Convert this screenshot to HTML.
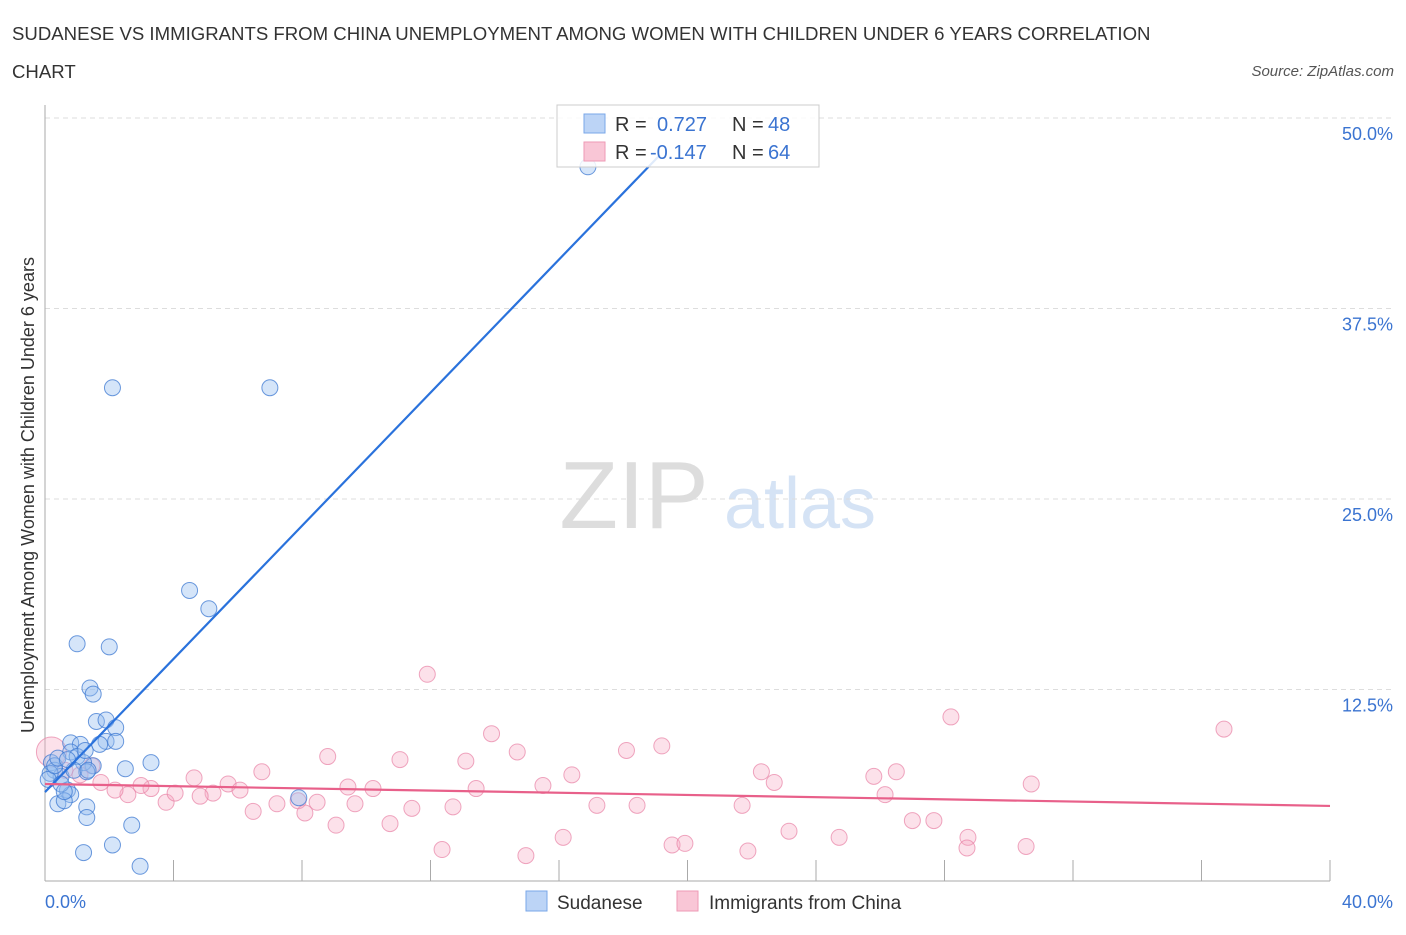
<!DOCTYPE html>
<html><head><meta charset="utf-8"><style>
body{margin:0;background:#fff;font-family:"Liberation Sans",sans-serif;}
svg text{font-family:"Liberation Sans",sans-serif;}
</style></head><body>
<svg id="c" width="1406" height="930" xmlns="http://www.w3.org/2000/svg">
<text x="12" y="40" font-size="18.6" fill="#333">SUDANESE VS IMMIGRANTS FROM CHINA UNEMPLOYMENT AMONG WOMEN WITH CHILDREN UNDER 6 YEARS CORRELATION</text>
<text x="12" y="78" font-size="18.6" fill="#333">CHART</text>
<text x="1394" y="76" font-size="15" fill="#555" font-style="italic" text-anchor="end">Source: ZipAtlas.com</text>
<text x="634" y="528" font-size="96" fill="#ddd" font-family="Liberation Serif" text-anchor="middle">ZIP</text>
<text x="800" y="528" font-size="72" fill="#d5e3f5" text-anchor="middle">atlas</text>
<text transform="translate(34,495) rotate(-90)" font-size="18" fill="#333" text-anchor="middle">Unemployment Among Women with Children Under 6 years</text>
<g id="grid"></g><g id="marks"></g><g id="lines"></g>
<g>
<rect x="557" y="105" width="262" height="62" fill="rgba(255,255,255,0.85)" stroke="#ccc"/>
<rect x="584" y="114" width="21" height="19" fill="#bcd4f6" stroke="#7aa7e8"/>
<rect x="584" y="142" width="21" height="19" fill="#f9c6d6" stroke="#ee9ab5"/>
<text x="615" y="131" font-size="20" fill="#333">R =</text><text x="657" y="131" font-size="20" fill="#3b74d1">0.727</text>
<text x="732" y="131" font-size="20" fill="#333">N =</text><text x="768" y="131" font-size="20" fill="#3b74d1">48</text>
<text x="615" y="159" font-size="20" fill="#333">R =</text><text x="650" y="159" font-size="20" fill="#3b74d1">-0.147</text>
<text x="732" y="159" font-size="20" fill="#333">N =</text><text x="768" y="159" font-size="20" fill="#3b74d1">64</text>
</g>
<g>
<rect x="526" y="891" width="21" height="20" fill="#bcd4f6" stroke="#7aa7e8"/>
<text x="557" y="909" font-size="19" fill="#333">Sudanese</text>
<rect x="677" y="891" width="21" height="20" fill="#f9c6d6" stroke="#ee9ab5"/>
<text x="709" y="909" font-size="19" fill="#333">Immigrants from China</text>
</g>
</svg>
<script>
const xTicks=[0,4,8,12,16,20,24,28,32,36,40];
const yTicks=[12.5,25,37.5,50];
const yTickLabels=["12.5%","25.0%","37.5%","50.0%"];
const sudX=[2.1,7.0,16.9,4.5,5.1,1.0,2.0,1.4,1.5,1.6,1.9,2.2,1.9,2.2,0.8,1.1,0.8,1.0,1.5,1.2,2.5,3.3,0.2,0.3,0.5,1.3,0.7,0.8,1.3,1.3,0.4,0.6,2.7,7.9,1.2,2.1,2.96,0.16,0.1,0.5,0.3,0.9,0.6,1.34,0.4,0.7,1.7,1.25];
const sudY=[32.3,32.3,46.8,19.0,17.8,15.5,15.3,12.6,12.2,10.4,10.5,10.0,9.1,9.1,9.0,8.9,8.4,8.1,7.5,7.7,7.3,7.7,7.7,7.2,6.8,7.1,5.9,5.6,4.8,4.1,5.0,5.2,3.6,5.4,1.8,2.3,0.9,7.0,6.6,6.3,7.5,7.2,5.8,7.2,8.0,7.9,8.9,8.5];
const chnX=[0.2,11.9,13.9,28.2,36.7,14.7,19.2,18.1,8.8,11.05,13.1,6.75,16.4,22.3,22.7,25.8,26.5,30.7,4.64,5.7,6.07,7.88,8.47,9.65,10.21,9.43,11.42,12.7,13.42,15.5,17.18,18.43,21.7,26.15,3.3,3.77,2.58,2.18,1.74,2.99,4.05,5.23,4.83,6.48,7.22,8.09,9.06,10.74,12.36,14.97,16.13,19.52,19.92,21.88,23.16,24.72,27.0,27.67,28.73,28.7,30.54,1.46,1.09,0.62];
const chnY=[8.4,13.5,9.6,10.7,9.9,8.4,8.8,8.5,8.1,7.9,7.8,7.1,6.9,7.1,6.4,6.8,7.1,6.3,6.7,6.3,5.9,5.2,5.1,5.0,6.0,6.1,4.7,4.8,6.0,6.2,4.9,4.9,4.9,5.6,6.0,5.1,5.6,5.9,6.4,6.2,5.7,5.7,5.5,4.5,5.0,4.4,3.6,3.7,2.0,1.6,2.8,2.3,2.4,1.9,3.2,2.8,3.9,3.9,2.8,2.1,2.2,7.5,6.9,7.2];
const sudFit=[5.77,2.184];
const chnFit=[6.30,-0.036];
const X=v=>45+v/40*1285, Y=v=>880-v/50*762;
const NS="http://www.w3.org/2000/svg";
function mk(t,a,p){const e=document.createElementNS(NS,t);for(const k in a)e.setAttribute(k,a[k]);p.appendChild(e);return e;}
const grid=document.getElementById('grid'),marks=document.getElementById('marks'),lines=document.getElementById('lines');
yTicks.forEach((v,i)=>{
 const g=mk('line',{x1:45,x2:1392,y1:Y(v),y2:Y(v),stroke:'#ddd','stroke-dasharray':'5,4'},grid);
 
 
 const t=mk('text',{x:1393,y:Y(v)+22,'font-size':18,fill:'#3b74d1','text-anchor':'end'},grid);t.textContent=yTickLabels[i];
 
 
});
const ax=mk('line',{x1:45,x2:45,y1:105,y2:881,stroke:'#aaa'},grid);


const bx=mk('line',{x1:45,x2:1330,y1:881,y2:881,stroke:'#aaa'},grid);


xTicks.forEach(v=>{const t=mk('line',{x1:X(v),x2:X(v),y1:860,y2:881,stroke:'#aaa'},grid);
 
 });
[[0,'start'],[40,'end']].forEach(([v,a])=>{const t=mk('text',{x:v?1393:45,y:908,'font-size':18,fill:'#3b74d1','text-anchor':a},grid);t.textContent=v.toFixed(1)+'%';
 
 });
chnX.forEach((x,i)=>{const c=mk('circle',{cx:X(x),cy:Y(chnY[i]),r:i==0?15:8,fill:'rgba(246,168,194,0.35)',stroke:'rgba(232,130,165,0.7)','stroke-width':1},marks);
 
 });
sudX.forEach((x,i)=>{const c=mk('circle',{cx:X(x),cy:Y(sudY[i]),r:8,fill:'rgba(150,190,240,0.4)',stroke:'rgba(60,120,210,0.75)','stroke-width':1},marks);
 
 });
const l1=mk('line',{x1:X(0),y1:Y(sudFit[0]),x2:X(19.14),y2:Y(sudFit[0]+sudFit[1]*19.14),stroke:'#2a72dc','stroke-width':2.2},lines);


const l2=mk('line',{x1:X(0),y1:Y(chnFit[0]),x2:X(40),y2:Y(chnFit[0]+chnFit[1]*40),stroke:'#e8608a','stroke-width':2.2},lines);


</script>
</body></html>
